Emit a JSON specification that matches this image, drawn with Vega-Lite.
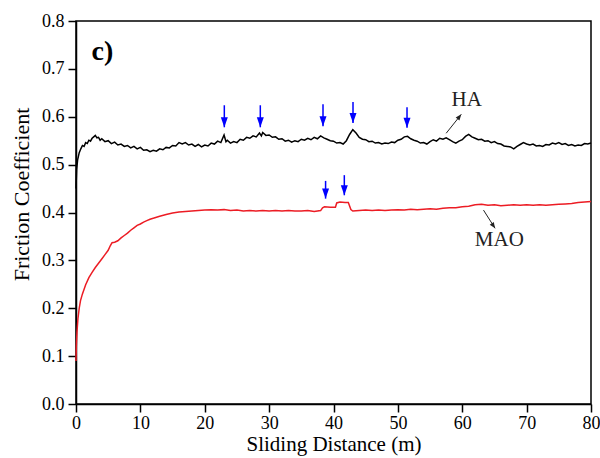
{
"$schema": "https://vega.github.io/schema/vega-lite/v6.json",
"width": 515, "height": 383,
"autosize": "none",
"padding": {"left": 76, "top": 21, "right": 9, "bottom": 54},
"background": "white",
"config": {"view": {"stroke": "black", "strokeWidth": 1.5}, "font": "Liberation Serif"},
"datasets": {
"curves": [
{"s":"HA","x":0,"y":0.45},{"s":"HA","x":0.1,"y":0.49},{"s":"HA","x":0.25,"y":0.51},{"s":"HA","x":0.5,"y":0.525},{"s":"HA","x":0.75,"y":0.533},{"s":"HA","x":1.0,"y":0.54},{"s":"HA","x":1.25,"y":0.538},{"s":"HA","x":1.5,"y":0.546},{"s":"HA","x":1.75,"y":0.544},{"s":"HA","x":2.0,"y":0.551},{"s":"HA","x":2.25,"y":0.549},{"s":"HA","x":2.5,"y":0.555},{"s":"HA","x":2.75,"y":0.558},{"s":"HA","x":3.0,"y":0.561},{"s":"HA","x":3.25,"y":0.556},{"s":"HA","x":3.5,"y":0.557},{"s":"HA","x":3.75,"y":0.551},{"s":"HA","x":4.0,"y":0.554},{"s":"HA","x":4.5,"y":0.548},{"s":"HA","x":5.0,"y":0.55},{"s":"HA","x":5.5,"y":0.544},{"s":"HA","x":6.0,"y":0.547},{"s":"HA","x":6.5,"y":0.541},{"s":"HA","x":7.0,"y":0.543},{"s":"HA","x":7.5,"y":0.538},{"s":"HA","x":8.0,"y":0.54},{"s":"HA","x":8.5,"y":0.535},{"s":"HA","x":9.0,"y":0.538},{"s":"HA","x":9.5,"y":0.533},{"s":"HA","x":10.0,"y":0.536},{"s":"HA","x":10.5,"y":0.53},{"s":"HA","x":11.0,"y":0.531},{"s":"HA","x":11.5,"y":0.527},{"s":"HA","x":12.0,"y":0.53},{"s":"HA","x":12.5,"y":0.528},{"s":"HA","x":13.0,"y":0.533},{"s":"HA","x":13.5,"y":0.531},{"s":"HA","x":14.0,"y":0.536},{"s":"HA","x":14.5,"y":0.535},{"s":"HA","x":15.0,"y":0.54},{"s":"HA","x":15.5,"y":0.539},{"s":"HA","x":16.0,"y":0.546},{"s":"HA","x":16.5,"y":0.543},{"s":"HA","x":17.0,"y":0.546},{"s":"HA","x":17.5,"y":0.541},{"s":"HA","x":18.0,"y":0.543},{"s":"HA","x":18.5,"y":0.538},{"s":"HA","x":19.0,"y":0.542},{"s":"HA","x":19.5,"y":0.537},{"s":"HA","x":20.0,"y":0.541},{"s":"HA","x":20.5,"y":0.539},{"s":"HA","x":21.0,"y":0.545},{"s":"HA","x":21.5,"y":0.543},{"s":"HA","x":22.0,"y":0.549},{"s":"HA","x":22.5,"y":0.546},{"s":"HA","x":23.0,"y":0.562},{"s":"HA","x":23.3,"y":0.548},{"s":"HA","x":23.5,"y":0.551},{"s":"HA","x":24.0,"y":0.545},{"s":"HA","x":24.5,"y":0.548},{"s":"HA","x":25.0,"y":0.546},{"s":"HA","x":25.5,"y":0.553},{"s":"HA","x":26.0,"y":0.551},{"s":"HA","x":26.5,"y":0.557},{"s":"HA","x":27.0,"y":0.555},{"s":"HA","x":27.5,"y":0.56},{"s":"HA","x":28.0,"y":0.558},{"s":"HA","x":28.5,"y":0.566},{"s":"HA","x":28.8,"y":0.56},{"s":"HA","x":29.0,"y":0.567},{"s":"HA","x":29.5,"y":0.561},{"s":"HA","x":30.0,"y":0.562},{"s":"HA","x":30.5,"y":0.557},{"s":"HA","x":31.0,"y":0.558},{"s":"HA","x":31.5,"y":0.553},{"s":"HA","x":32.0,"y":0.554},{"s":"HA","x":32.5,"y":0.549},{"s":"HA","x":33.0,"y":0.551},{"s":"HA","x":33.5,"y":0.547},{"s":"HA","x":34.0,"y":0.55},{"s":"HA","x":34.5,"y":0.548},{"s":"HA","x":35.0,"y":0.553},{"s":"HA","x":35.5,"y":0.551},{"s":"HA","x":36.0,"y":0.555},{"s":"HA","x":36.5,"y":0.552},{"s":"HA","x":37.0,"y":0.557},{"s":"HA","x":37.5,"y":0.554},{"s":"HA","x":38.0,"y":0.56},{"s":"HA","x":38.5,"y":0.556},{"s":"HA","x":39.0,"y":0.553},{"s":"HA","x":39.5,"y":0.55},{"s":"HA","x":40.0,"y":0.549},{"s":"HA","x":40.5,"y":0.545},{"s":"HA","x":41.0,"y":0.546},{"s":"HA","x":41.5,"y":0.543},{"s":"HA","x":42.0,"y":0.55},{"s":"HA","x":42.5,"y":0.563},{"s":"HA","x":43.0,"y":0.573},{"s":"HA","x":43.5,"y":0.566},{"s":"HA","x":44.0,"y":0.557},{"s":"HA","x":44.5,"y":0.553},{"s":"HA","x":45.0,"y":0.552},{"s":"HA","x":45.5,"y":0.548},{"s":"HA","x":46.0,"y":0.549},{"s":"HA","x":46.5,"y":0.545},{"s":"HA","x":47.0,"y":0.546},{"s":"HA","x":47.5,"y":0.543},{"s":"HA","x":48.0,"y":0.545},{"s":"HA","x":48.5,"y":0.544},{"s":"HA","x":49.0,"y":0.547},{"s":"HA","x":49.5,"y":0.546},{"s":"HA","x":50.0,"y":0.551},{"s":"HA","x":50.5,"y":0.553},{"s":"HA","x":51.0,"y":0.558},{"s":"HA","x":51.5,"y":0.559},{"s":"HA","x":52.0,"y":0.554},{"s":"HA","x":52.5,"y":0.551},{"s":"HA","x":53.0,"y":0.549},{"s":"HA","x":53.5,"y":0.545},{"s":"HA","x":54.0,"y":0.546},{"s":"HA","x":54.5,"y":0.543},{"s":"HA","x":55.0,"y":0.548},{"s":"HA","x":55.5,"y":0.552},{"s":"HA","x":56.0,"y":0.549},{"s":"HA","x":56.5,"y":0.555},{"s":"HA","x":57.0,"y":0.553},{"s":"HA","x":57.5,"y":0.556},{"s":"HA","x":58.0,"y":0.552},{"s":"HA","x":58.5,"y":0.548},{"s":"HA","x":59.0,"y":0.545},{"s":"HA","x":59.5,"y":0.549},{"s":"HA","x":60.0,"y":0.552},{"s":"HA","x":60.5,"y":0.559},{"s":"HA","x":61.0,"y":0.563},{"s":"HA","x":61.5,"y":0.558},{"s":"HA","x":62.0,"y":0.555},{"s":"HA","x":62.5,"y":0.552},{"s":"HA","x":63.0,"y":0.553},{"s":"HA","x":63.5,"y":0.549},{"s":"HA","x":64.0,"y":0.55},{"s":"HA","x":64.5,"y":0.546},{"s":"HA","x":65.0,"y":0.548},{"s":"HA","x":65.5,"y":0.544},{"s":"HA","x":66.0,"y":0.543},{"s":"HA","x":66.5,"y":0.539},{"s":"HA","x":67.0,"y":0.538},{"s":"HA","x":67.5,"y":0.537},{"s":"HA","x":68.0,"y":0.533},{"s":"HA","x":68.5,"y":0.538},{"s":"HA","x":69.0,"y":0.542},{"s":"HA","x":69.5,"y":0.546},{"s":"HA","x":70.0,"y":0.543},{"s":"HA","x":70.5,"y":0.541},{"s":"HA","x":71.0,"y":0.543},{"s":"HA","x":71.5,"y":0.539},{"s":"HA","x":72.0,"y":0.54},{"s":"HA","x":72.5,"y":0.538},{"s":"HA","x":73.0,"y":0.542},{"s":"HA","x":73.5,"y":0.541},{"s":"HA","x":74.0,"y":0.545},{"s":"HA","x":74.5,"y":0.543},{"s":"HA","x":75.0,"y":0.546},{"s":"HA","x":75.5,"y":0.542},{"s":"HA","x":76.0,"y":0.544},{"s":"HA","x":76.5,"y":0.54},{"s":"HA","x":77.0,"y":0.542},{"s":"HA","x":77.5,"y":0.539},{"s":"HA","x":78.0,"y":0.541},{"s":"HA","x":78.5,"y":0.54},{"s":"HA","x":79.0,"y":0.544},{"s":"HA","x":79.5,"y":0.543},{"s":"HA","x":80.0,"y":0.545},
{"s":"MAO","x":0,"y":0.09},{"s":"MAO","x":0.05,"y":0.12},{"s":"MAO","x":0.15,"y":0.15},{"s":"MAO","x":0.3,"y":0.178},{"s":"MAO","x":0.5,"y":0.2},{"s":"MAO","x":0.7,"y":0.216},{"s":"MAO","x":1.0,"y":0.23},{"s":"MAO","x":1.5,"y":0.249},{"s":"MAO","x":2.0,"y":0.264},{"s":"MAO","x":2.5,"y":0.275},{"s":"MAO","x":3.0,"y":0.285},{"s":"MAO","x":3.5,"y":0.294},{"s":"MAO","x":4.0,"y":0.303},{"s":"MAO","x":4.5,"y":0.312},{"s":"MAO","x":5.0,"y":0.321},{"s":"MAO","x":5.3,"y":0.33},{"s":"MAO","x":5.6,"y":0.337},{"s":"MAO","x":6.0,"y":0.338},{"s":"MAO","x":6.5,"y":0.341},{"s":"MAO","x":7.0,"y":0.347},{"s":"MAO","x":7.5,"y":0.352},{"s":"MAO","x":8.0,"y":0.357},{"s":"MAO","x":8.5,"y":0.363},{"s":"MAO","x":9.0,"y":0.368},{"s":"MAO","x":9.5,"y":0.373},{"s":"MAO","x":10.0,"y":0.376},{"s":"MAO","x":10.5,"y":0.38},{"s":"MAO","x":11.0,"y":0.383},{"s":"MAO","x":11.5,"y":0.386},{"s":"MAO","x":12,"y":0.388},{"s":"MAO","x":13,"y":0.392},{"s":"MAO","x":14,"y":0.396},{"s":"MAO","x":15,"y":0.399},{"s":"MAO","x":16,"y":0.401},{"s":"MAO","x":17,"y":0.402},{"s":"MAO","x":18,"y":0.403},{"s":"MAO","x":19,"y":0.404},{"s":"MAO","x":20,"y":0.405},{"s":"MAO","x":21,"y":0.406},{"s":"MAO","x":22,"y":0.405},{"s":"MAO","x":23,"y":0.406},{"s":"MAO","x":24,"y":0.404},{"s":"MAO","x":25,"y":0.405},{"s":"MAO","x":26,"y":0.403},{"s":"MAO","x":27,"y":0.404},{"s":"MAO","x":28,"y":0.403},{"s":"MAO","x":29,"y":0.404},{"s":"MAO","x":30,"y":0.403},{"s":"MAO","x":31,"y":0.404},{"s":"MAO","x":32,"y":0.403},{"s":"MAO","x":33,"y":0.404},{"s":"MAO","x":34,"y":0.403},{"s":"MAO","x":35,"y":0.403},{"s":"MAO","x":36,"y":0.404},{"s":"MAO","x":37,"y":0.402},{"s":"MAO","x":38,"y":0.404},{"s":"MAO","x":38.3,"y":0.41},{"s":"MAO","x":38.6,"y":0.412},{"s":"MAO","x":39.5,"y":0.411},{"s":"MAO","x":40.3,"y":0.411},{"s":"MAO","x":40.5,"y":0.42},{"s":"MAO","x":41,"y":0.422},{"s":"MAO","x":41.8,"y":0.421},{"s":"MAO","x":42.3,"y":0.421},{"s":"MAO","x":42.7,"y":0.406},{"s":"MAO","x":43,"y":0.403},{"s":"MAO","x":44,"y":0.404},{"s":"MAO","x":45,"y":0.405},{"s":"MAO","x":46,"y":0.404},{"s":"MAO","x":47,"y":0.405},{"s":"MAO","x":48,"y":0.404},{"s":"MAO","x":49,"y":0.405},{"s":"MAO","x":50,"y":0.406},{"s":"MAO","x":51,"y":0.405},{"s":"MAO","x":52,"y":0.407},{"s":"MAO","x":53,"y":0.406},{"s":"MAO","x":54,"y":0.407},{"s":"MAO","x":55,"y":0.408},{"s":"MAO","x":56,"y":0.407},{"s":"MAO","x":57,"y":0.409},{"s":"MAO","x":58,"y":0.41},{"s":"MAO","x":59,"y":0.41},{"s":"MAO","x":60,"y":0.412},{"s":"MAO","x":61,"y":0.413},{"s":"MAO","x":62,"y":0.416},{"s":"MAO","x":63,"y":0.417},{"s":"MAO","x":64,"y":0.415},{"s":"MAO","x":65,"y":0.416},{"s":"MAO","x":66,"y":0.414},{"s":"MAO","x":67,"y":0.415},{"s":"MAO","x":68,"y":0.416},{"s":"MAO","x":69,"y":0.415},{"s":"MAO","x":70,"y":0.416},{"s":"MAO","x":71,"y":0.415},{"s":"MAO","x":72,"y":0.416},{"s":"MAO","x":73,"y":0.415},{"s":"MAO","x":74,"y":0.416},{"s":"MAO","x":75,"y":0.417},{"s":"MAO","x":76,"y":0.418},{"s":"MAO","x":77,"y":0.419},{"s":"MAO","x":78,"y":0.421},{"s":"MAO","x":79,"y":0.422},{"s":"MAO","x":80,"y":0.423}
],
"blue": [
{"x":23.04,"top":0.624,"tip":0.578},{"x":28.63,"top":0.624,"tip":0.578},{"x":38.37,"top":0.626,"tip":0.58},{"x":43.03,"top":0.631,"tip":0.587},{"x":51.42,"top":0.62,"tip":0.577},{"x":38.77,"top":0.466,"tip":0.429},{"x":41.68,"top":0.478,"tip":0.436}
],
"black": [
{"x":57.5,"y":0.5655,"x2":59.85,"y2":0.605,"angle":218.3},{"x":63.3,"y":0.405,"x2":65.1,"y2":0.367,"angle":326.3}
],
"labels": [
{"x":60.7,"y":0.634,"t":"HA"},{"x":65.76,"y":0.3426,"t":"MAO"}
]
},
"layer": [
{
"data": {"name": "curves"},
"mark": {"type": "line", "strokeWidth": 1.5, "interpolate": "linear"},
"encoding": {
"x": {"field": "x", "type": "quantitative",
"scale": {"domain": [0, 80], "nice": false, "zero": false},
"axis": {"title": "Sliding Distance (m)", "values": [0,5,10,15,20,25,30,35,40,45,50,55,60,65,70,75,80],
"labelExpr": "datum.value % 10 === 0 ? datum.label : ''",
"tickSize": {"condition": {"test": "datum.value % 10 === 0", "value": 8}, "value": 5},
"grid": false, "labelFlush": false, "labelOverlap": false,
"labelFontSize": 18, "labelPadding": 2, "labelColor": "black",
"titleFontSize": 21, "titleFontWeight": "normal", "titleColor": "black",
"titleY": 46, "titleBaseline": "alphabetic",
"domainColor": "black", "domainWidth": 1.5, "tickColor": "black", "tickWidth": 1.5}},
"y": {"field": "y", "type": "quantitative",
"scale": {"domain": [0, 0.8], "nice": false, "zero": false},
"axis": {"title": "Friction Coefficient", "values": [0,0.05,0.1,0.15,0.2,0.25,0.3,0.35,0.4,0.45,0.5,0.55,0.6,0.65,0.7,0.75,0.8],
"labelExpr": "round(datum.value*100) % 10 === 0 ? format(datum.value, '.1f') : ''",
"tickSize": {"condition": {"test": "round(datum.value*100) % 10 === 0", "value": 8}, "value": 5},
"grid": false, "labelFlush": false, "labelOverlap": false,
"labelFontSize": 18, "labelPadding": 4, "labelColor": "black",
"titleFontSize": 22, "titleFontWeight": "normal", "titleColor": "black",
"titleX": -55, "titleY": 173, "titleBaseline": "middle", "titleAlign": "center", "titleAngle": 270,
"domainColor": "black", "domainWidth": 1.5, "tickColor": "black", "tickWidth": 1.5}},
"color": {"field": "s", "type": "nominal", "scale": {"domain": ["HA","MAO"], "range": ["#000000","#ec1c24"]}, "legend": null}
}
},
{
"data": {"name": "blue"},
"mark": {"type": "rule", "color": "#0000ff", "strokeWidth": 1.5},
"encoding": {"x": {"field": "x", "type": "quantitative"}, "y": {"field": "top", "type": "quantitative"}, "y2": {"field": "tip"}}
},
{
"data": {"name": "blue"},
"mark": {"type": "point", "shape": "M-0.7,-2L0.7,-2L0,0Z", "filled": true, "color": "#0000ff", "size": 100, "opacity": 1},
"encoding": {"x": {"field": "x", "type": "quantitative"}, "y": {"field": "tip", "type": "quantitative"}}
},
{
"data": {"name": "black"},
"mark": {"type": "rule", "color": "#222222", "strokeWidth": 1},
"encoding": {"x": {"field": "x", "type": "quantitative"}, "y": {"field": "y", "type": "quantitative"}, "x2": {"field": "x2"}, "y2": {"field": "y2"}}
},
{
"data": {"name": "black"},
"mark": {"type": "point", "shape": "M-0.8,-2L0.8,-2L0,0Z", "filled": true, "color": "#222222", "size": 36, "opacity": 1},
"encoding": {"x": {"field": "x2", "type": "quantitative"}, "y": {"field": "y2", "type": "quantitative"}, "angle": {"field": "angle", "type": "quantitative", "scale": null}}
},
{
"data": {"name": "labels"},
"mark": {"type": "text", "fontSize": 21, "color": "#222222", "align": "center", "baseline": "middle", "font": "Liberation Serif"},
"encoding": {"x": {"field": "x", "type": "quantitative"}, "y": {"field": "y", "type": "quantitative"}, "text": {"field": "t"}}
},
{
"data": {"values": [{"x": 2.4, "y": 0.735, "t": "c)"}]},
"mark": {"type": "text", "fontSize": 28, "fontWeight": "bold", "color": "black", "align": "left", "baseline": "middle", "font": "Liberation Serif"},
"encoding": {"x": {"field": "x", "type": "quantitative"}, "y": {"field": "y", "type": "quantitative"}, "text": {"field": "t"}}
}
]
}
